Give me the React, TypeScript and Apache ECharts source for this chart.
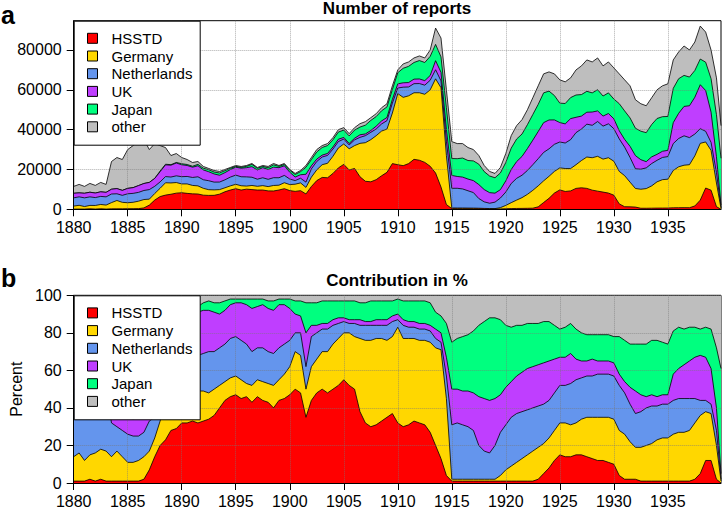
import React, { useEffect, useRef } from "react";
import * as echarts from "echarts";

// ---- data ----
const seriesNames = ["HSSTD", "Germany", "Netherlands", "UK", "Japan", "other"];
const seriesColors = ["#FF0000", "#FFD700", "#6495ED", "#BF3EFF", "#00FF7F", "#BEBEBE"];

// sample times: half-year steps 1880.0 .. 1939.5, last sample Dec 1939
const sampleYears: number[] = Array.from({ length: 120 }, (_, i) => 1880 + i / 2).concat([1939.92]);

// total number of reports (panel a, top of stack)
const totalReports = [
  11500, 12500, 11500, 13000, 12000, 13500, 12500, 24000, 26000, 25000,
  30000, 32000, 34000, 35000, 30000, 33000, 32000, 31000, 27000, 28000,
  26000, 25000, 23500, 24000, 21500, 20500, 19500, 19000, 20000, 21000,
  22000, 21500, 22000, 23000, 21000, 22000, 21500, 23000, 22000, 23000,
  20000, 18000, 19500, 22000, 26000, 30000, 32000, 33000, 36000, 40000,
  41000, 38000, 41000, 43000, 44000, 46000, 48000, 51000, 53000, 62000,
  70000, 73000, 74000, 76000, 77000, 76000, 80000, 91000, 86000, 60000,
  34000, 33000, 33000, 31000, 30000, 27000, 22000, 19000, 18000, 21000,
  28000, 37000, 42000, 45000, 50000, 56000, 62000, 68000, 69000, 68000,
  65000, 64000, 66000, 70000, 72000, 75000, 74000, 76000, 72000, 74000,
  71000, 68000, 65000, 62000, 55000, 53000, 52000, 56000, 60000, 62000,
  63000, 75000, 79000, 82000, 80000, 84000, 92000, 89000, 80000, 66000, 42000,
];

// contribution in % (panel b)
const hsstdPct = [
  1, 1, 1, 2, 1, 2, 1, 1, 1, 1,
  1, 1, 1, 2, 7, 14, 20, 23, 28, 29,
  32, 32, 33, 32, 33, 34, 36, 40, 44, 46,
  47, 45, 46, 43, 46, 44, 43, 40, 44, 45,
  47, 50, 48, 35, 44, 48, 50, 48, 50, 52,
  55, 52, 50, 38, 32, 30, 31, 33, 35, 37,
  32, 30, 31, 33, 32, 31, 27, 20, 13, 4,
  1, 1, 1, 1, 1, 1, 1, 1, 1, 1,
  1, 1, 1, 1, 1, 1, 2, 5, 8, 12,
  15, 14, 14, 15, 15, 14, 13, 12, 12, 11,
  10, 4, 2, 2, 2, 1, 1, 1, 1, 1,
  1, 1, 1, 1, 1, 2, 5, 12, 12, 2, 0,
];
const germanyPct = [
  13, 15, 11, 13, 15, 16, 16, 13, 16, 13,
  10, 10, 11, 12, 10, 10, 13, 20, 21, 19,
  17, 19, 18, 17, 16, 14, 14, 12, 10, 10,
  10, 10, 7, 9, 9, 10, 10, 12, 11, 13,
  15, 20, 20, 15, 18, 18, 20, 22, 24, 25,
  25, 28, 28, 39, 44, 46, 46, 44, 41, 41,
  51, 47, 46, 44, 44, 45, 48, 52, 58, 41,
  1, 1, 1, 1, 1, 1, 1, 1, 1, 3,
  6, 8, 10, 12, 14, 16, 17, 16, 16, 16,
  17, 18, 17, 17, 19, 21, 22, 23, 23, 24,
  24, 24, 24, 20, 17, 18, 19, 20, 22, 23,
  23, 25, 26, 26, 27, 30, 31, 26, 25, 18, 1,
];
const netherlandsPct = [
  36, 34, 38, 33, 33, 30, 33, 18, 13, 14,
  15, 14, 13, 13, 16, 11, 10, 10, 11, 12,
  14, 15, 17, 19, 20, 22, 20, 20, 20, 21,
  21, 21, 21, 18, 17, 18, 17, 17, 17, 16,
  14, 10, 12, 12, 16, 14, 12, 12, 10, 8,
  6, 5, 7, 7, 8, 8, 7, 7, 8, 8,
  4, 7, 6, 6, 6, 6, 6, 5, 4, 12,
  29, 30, 29, 28, 26, 18, 15, 14, 18, 23,
  24, 26, 26, 25, 24, 23, 22, 21, 20, 20,
  20, 20, 22, 23, 22, 22, 22, 23, 23, 23,
  23, 24, 22, 20, 18, 19, 20, 20, 18, 18,
  18, 18, 18, 18, 17, 13, 8, 6, 5, 8, 1,
];
const ukPct = [
  20, 16, 20, 18, 19, 17, 18, 10, 10, 10,
  9, 9, 10, 10, 12, 12, 16, 19, 22, 23,
  23, 22, 22, 23, 23, 22, 21, 18, 18, 18,
  18, 20, 21, 23, 22, 23, 23, 23, 23, 21,
  17, 10, 9, 18, 6, 4, 3, 3, 3, 3,
  2, 2, 2, 3, 2, 2, 3, 3, 3, 3,
  3, 3, 3, 3, 3, 3, 3, 5, 5, 10,
  19, 18, 18, 19, 20, 26, 28, 28, 25, 20,
  20, 19, 20, 21, 22, 22, 22, 22, 21, 18,
  15, 15, 16, 11, 9, 8, 9, 7, 7, 7,
  7, 6, 6, 9, 12, 9, 6, 6, 5, 5,
  5, 14, 16, 18, 20, 22, 24, 23, 19, 12, 3,
];
const japanPct = [
  0, 0, 0, 0, 0, 0, 0, 0, 0, 0,
  0, 0, 0, 0, 0, 0, 1, 1, 1, 1,
  2, 2, 2, 3, 4, 5, 5, 6, 5, 3,
  2, 2, 3, 5, 4, 3, 4, 5, 3, 3,
  5, 7, 8, 16, 12, 12, 12, 12, 10, 9,
  9, 10, 10, 9, 10, 11, 10, 10, 10, 8,
  8, 10, 11, 11, 12, 12, 12, 9, 9, 18,
  25, 27, 29, 30, 33, 38, 41, 44, 43, 40,
  33, 29, 27, 25, 24, 23, 22, 22, 21, 18,
  15, 16, 16, 16, 15, 14, 13, 14, 14, 14,
  14, 20, 22, 23, 25, 27, 28, 29, 30, 28,
  27, 23, 22, 19, 18, 16, 14, 16, 21, 32, 56,
];
const otherPct = [
  30, 34, 30, 34, 32, 35, 32, 58, 60, 62,
  65, 66, 65, 63, 55, 53, 40, 27, 17, 16,
  12, 10, 8, 6, 4, 3, 4, 4, 3, 2,
  2, 2, 2, 2, 2, 2, 3, 3, 2, 2,
  2, 3, 3, 4, 4, 4, 3, 3, 3, 3,
  3, 3, 3, 4, 4, 3, 3, 3, 3, 3,
  2, 3, 3, 3, 3, 3, 4, 9, 11, 15,
  25, 23, 22, 21, 19, 16, 14, 12, 12, 13,
  16, 17, 16, 16, 15, 15, 15, 14, 14, 16,
  18, 17, 15, 18, 20, 21, 21, 21, 21, 21,
  22, 22, 24, 26, 26, 26, 26, 24, 24, 25,
  26, 19, 17, 18, 17, 17, 18, 17, 18, 28, 39,
];

const yearTicks = [1880, 1885, 1890, 1895, 1900, 1905, 1910, 1915, 1920, 1925, 1930, 1935];
const reportTicks = [0, 20000, 40000, 60000, 80000];
const percentTicks = [0, 20, 40, 60, 80, 100];

// ---- layout ----
const W = 722;
const H = 509;
const GRID_LEFT = 73.7;
const GRID_RIGHT = 1;
const TOP_GRID_TOP = 20.7;
const TOP_GRID_H = 188.6;
const BOT_GRID_TOP = 295.3;
const BOT_GRID_H = 188;
const FONT = '"Liberation Sans", Arial, Helvetica, sans-serif';

function legendElements(gridTop: number) {
  const els: any[] = [
    {
      type: "rect",
      z: 100,
      shape: { x: GRID_LEFT + 0.5, y: gridTop + 0.5, width: 126, height: 124 },
      style: { fill: "#fff", stroke: "#000", lineWidth: 1 },
    },
  ];
  seriesNames.forEach((name, k) => {
    const cy = gridTop + 17.6 + 17.7 * k;
    els.push({
      type: "rect",
      z: 101,
      shape: { x: 87.5, y: cy - 5, width: 10, height: 10 },
      style: { fill: seriesColors[k], stroke: "#000", lineWidth: 1 },
    });
    els.push({
      type: "text",
      z: 101,
      x: 111.5,
      y: cy,
      style: { text: name, fontSize: 15, fontFamily: FONT, fill: "#000", verticalAlign: "middle", align: "left" },
    });
  });
  return els;
}

export default function App() {
  const ref = useRef<HTMLDivElement>(null);
  useEffect(() => {
    if (!ref.current) return;
    const chart = echarts.init(ref.current, undefined, { renderer: "svg" });
    const shareTable = [hsstdPct, germanyPct, netherlandsPct, ukPct, japanPct, otherPct];
    const n = sampleYears.length;
    const sums = sampleYears.map((_, i) => shareTable.reduce((s, a) => s + (a[i] || 0), 0));

    // cumulative tops of each layer (stack built here, each layer filled down to 0,
    // lower layers drawn above upper ones)
    const cumPct: number[][] = [];
    let run = new Array(n).fill(0);
    shareTable.forEach((arr) => {
      run = run.map((v, i) => v + (100 * (arr[i] || 0)) / sums[i]);
      cumPct.push(run.slice());
    });

    const series: any[] = [];
    seriesNames.forEach((name, k) => {
      const common = {
        name,
        type: "line",
        symbol: "none",
        showSymbol: false,
        z: 20 - k,
        areaStyle: { color: seriesColors[k], opacity: 1, origin: "start" },
        lineStyle: { color: "#000", width: 0.8 },
        itemStyle: { color: seriesColors[k] },
        silent: true,
      };
      series.push({
        ...common,
        xAxisIndex: 0,
        yAxisIndex: 0,
        data: sampleYears.map((t, i) => [t, (totalReports[i] * cumPct[k][i]) / 100]),
      });
      series.push({
        ...common,
        xAxisIndex: 1,
        yAxisIndex: 1,
        data: sampleYears.map((t, i) => [t, cumPct[k][i]]),
      });
    });

    const splitLine = { show: true, lineStyle: { type: "dotted", color: "rgba(120,120,120,0.6)", width: 1 } };
    const axisLine = { show: true, onZero: false, lineStyle: { color: "#000", width: 1 } };
    const labelStyle = { fontSize: 16, color: "#000", fontFamily: FONT };

    const xAxisBase = (gridIndex: number) => ({
      type: "value",
      gridIndex,
      min: 1880,
      max: 1939.92,
      interval: 5,
      z: 30,
      axisLine,
      axisTick: { show: true, length: 7, lineStyle: { color: "#000" }, customValues: yearTicks },
      axisLabel: {
        ...labelStyle,
        margin: 10,
        customValues: yearTicks,
        formatter: (v: number) => (yearTicks.includes(v) ? String(v) : ""),
      },
      splitLine,
    });

    const option: any = {
      animation: false,
      backgroundColor: "#fff",
      title: [
        { text: "Number of reports", left: 397, top: 0, textAlign: "center", padding: 0,
          textStyle: { fontSize: 17, fontWeight: "bold", color: "#000", fontFamily: FONT } },
        { text: "Contribution in %", left: 397, top: 272, textAlign: "center", padding: 0,
          textStyle: { fontSize: 17, fontWeight: "bold", color: "#000", fontFamily: FONT } },
        { text: "a", left: 1, top: 2, padding: 0,
          textStyle: { fontSize: 25, fontWeight: "bold", color: "#000", fontFamily: FONT } },
        { text: "b", left: 1, top: 265, padding: 0,
          textStyle: { fontSize: 25, fontWeight: "bold", color: "#000", fontFamily: FONT } },
      ],
      grid: [
        { left: GRID_LEFT, right: GRID_RIGHT, top: TOP_GRID_TOP, height: TOP_GRID_H,
          show: true, borderColor: "#000", borderWidth: 1, backgroundColor: "transparent" },
        { left: GRID_LEFT, right: GRID_RIGHT, top: BOT_GRID_TOP, height: BOT_GRID_H,
          show: true, borderColor: "#000", borderWidth: 1, backgroundColor: "transparent" },
      ],
      xAxis: [xAxisBase(0), xAxisBase(1)],
      yAxis: [
        {
          type: "value",
          gridIndex: 0,
          min: 0,
          max: 94700,
          interval: 20000,
          z: 30,
          axisLine,
          axisTick: { show: true, length: 7, lineStyle: { color: "#000" }, customValues: reportTicks },
          axisLabel: {
            ...labelStyle,
            margin: 12,
            customValues: reportTicks,
            formatter: (v: number) => (reportTicks.includes(v) ? String(v) : ""),
          },
          splitLine,
        },
        {
          type: "value",
          gridIndex: 1,
          min: 0,
          max: 100,
          interval: 20,
          z: 30,
          name: "Percent",
          nameLocation: "middle",
          nameGap: 41,
          nameTextStyle: { fontSize: 16, color: "#000", fontFamily: FONT },
          axisLine,
          axisTick: { show: true, length: 7, lineStyle: { color: "#000" }, customValues: percentTicks },
          axisLabel: { ...labelStyle, margin: 12, customValues: percentTicks },
          splitLine,
        },
      ],
      series,
      graphic: [...legendElements(TOP_GRID_TOP), ...legendElements(BOT_GRID_TOP)],
    };
    chart.setOption(option);
    return () => chart.dispose();
  }, []);

  return (
    <div
      ref={ref}
      style={{ position: "fixed", left: 0, top: 0, width: W, height: H, background: "#fff" }}
    />
  );
}
